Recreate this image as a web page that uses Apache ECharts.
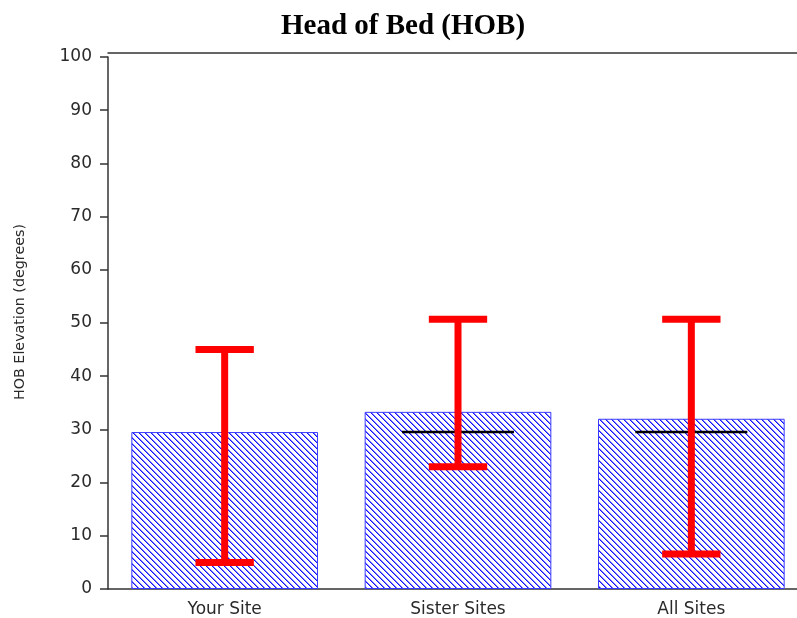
<!DOCTYPE html>
<html>
<head>
<meta charset="utf-8">
<script src="https://cdn.jsdelivr.net/npm/echarts@6/dist/echarts.min.js"></script>
<style>html,body{margin:0;padding:0;background:#fff;overflow:hidden}#c{width:810px;height:618px}</style>
</head>
<body>
<div id="c"></div>
<script>
const categories = ['Your Site', 'Sister Sites', 'All Sites'];
const barValues = [29.5, 33.3, 32.0];
const errLow = [5, 23, 6.6];
const errHigh = [45, 50.7, 50.7];
const refLine = [null, 29.5, 29.5];
const yTicks = [0, 10, 20, 30, 40, 50, 60, 70, 80, 90, 100];

function hatch() {
  const s = 6;
  const c = document.createElement('canvas');
  c.width = s; c.height = s;
  const g = c.getContext('2d');
  g.fillStyle = '#ffffff';
  g.fillRect(0, 0, s, s);
  g.fillStyle = '#1010ff';
  for (let i = 0; i < s; i++) { g.fillRect(i, i, 1, 1); }
  g.fillStyle = 'rgba(40,40,255,0.6)';
  for (let i = 0; i < s; i++) { g.fillRect((i + 1) % s, i, 1, 1); }
  return c;
}

const chart = echarts.init(document.getElementById('c'), null, {renderer: 'canvas'});
const errData = categories.map((c, i) => [i, errLow[i], errHigh[i], refLine[i]]);

chart.setOption({
  animation: false,
  title: {
    text: 'Head of Bed (HOB)', left: 398, textAlign: 'center', top: 7,
    textStyle: {fontFamily: 'Liberation Serif', fontWeight: 'bold', fontSize: 29, color: '#000'}
  },
  grid: {left: 108, top: 57, width: 700, height: 532},
  xAxis: [{
    type: 'category', data: categories,
    axisLine: {lineStyle: {color: '#333', width: 1.5}},
    axisTick: {show: false},
    axisLabel: {fontFamily: 'DejaVu Sans', fontSize: 17, color: '#2a2a2a', margin: 12}
  }, {
    type: 'category', data: categories, position: 'top', offset: 4,
    axisLine: {show: true, lineStyle: {color: '#333', width: 1.5}},
    axisTick: {show: false}, axisLabel: {show: false}
  }],
  yAxis: {
    type: 'value', min: yTicks[0], max: yTicks[yTicks.length - 1], interval: 10,
    axisLine: {show: true, lineStyle: {color: '#333', width: 1.5}},
    axisTick: {show: true, length: 8, lineStyle: {color: '#333', width: 1.5}},
    axisLabel: {fontFamily: 'DejaVu Sans', fontSize: 17, color: '#2a2a2a', margin: 16},
    splitLine: {show: false}
  },
  graphic: [{
    type: 'text', x: 20, y: 312, rotation: Math.PI / 2,
    style: {text: 'HOB Elevation (degrees)', fontFamily: 'DejaVu Sans', fontSize: 14.3, fill: '#2a2a2a',
      align: 'center', verticalAlign: 'middle'}
  }],
  series: [{
    type: 'bar', data: barValues, barWidth: '80%',
    itemStyle: {color: {image: hatch(), repeat: 'repeat'}, borderColor: '#3a3aff', borderWidth: 1}
  }, {
    type: 'custom', data: errData, z: 5,
    renderItem: function (params, api) {
      const x = api.value(0);
      const lo = api.coord([x, api.value(1)]);
      const hi = api.coord([x, api.value(2)]);
      const band = api.size([1, 0])[0];
      const cap = band * 0.25;
      const children = [];
      const ref = api.value(3);
      if (ref !== null && !isNaN(ref)) {
        const r = api.coord([x, ref]);
        const w = band * 0.48;
        children.push({type: 'line', shape: {x1: r[0] - w / 2, y1: r[1], x2: r[0] + w / 2, y2: r[1]},
          style: {stroke: '#000', lineWidth: 2.5}});
      }
      const red = {stroke: '#ff0000', lineWidth: 7};
      children.push({type: 'line', shape: {x1: hi[0], y1: hi[1], x2: lo[0], y2: lo[1]}, style: red});
      children.push({type: 'line', shape: {x1: hi[0] - cap / 2, y1: hi[1], x2: hi[0] + cap / 2, y2: hi[1]}, style: red});
      children.push({type: 'line', shape: {x1: lo[0] - cap / 2, y1: lo[1], x2: lo[0] + cap / 2, y2: lo[1]}, style: red});
      return {type: 'group', children: children};
    }
  }]
});
</script>
</body>
</html>
